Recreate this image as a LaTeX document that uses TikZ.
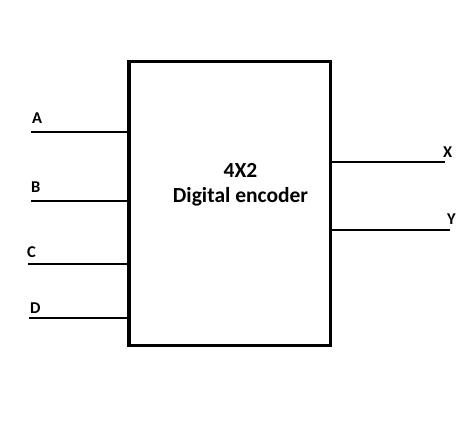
\documentclass[tikz,border=0pt]{standalone}
\usepackage{fontspec}
\setmainfont{Carlito}
\usepackage{tikz}
\usetikzlibrary{positioning}

\begin{document}
\begin{tikzpicture}[
    x               = 1pt, y = -1pt,
    encbox/.style   = {draw, line width=3.5pt, minimum width=201.5pt,
                       minimum height=283.5pt, inner sep=0pt},
    wire/.style     = {line width=1.8pt},
    pinlbl/.style   = {font=\bfseries\fontsize{16.5}{16.5}\selectfont, inner sep=0pt},
    title/.style    = {font=\bfseries\fontsize{21.5}{25}\selectfont, align=center}
]
\useasboundingbox (0,0) rectangle (474,425);

\node[encbox] (enc) at (229.5,203.5) {};
\node[title]  (name) at (240.5,185) {4X2\\Digital encoder};

% inputs
\coordinate (inA) at (31,132);
\coordinate (inB) at (31,201);
\coordinate (inC) at (28,264);
\coordinate (inD) at (29,318);

\draw[wire] (inA) -- (inA -| enc.west);
\draw[wire] (inB) -- (inB -| enc.west);
\draw[wire] (inC) -- (inC -| enc.west);
\draw[wire] (inD) -- (inD -| enc.west);

\node[pinlbl, anchor=base west] (lblA) at (32,124) {A};
\node[pinlbl, anchor=base west] (lblB) at (31,193) {B};
\node[pinlbl, anchor=base west] (lblC) at (27,257) {C};
\node[pinlbl, anchor=base west] (lblD) at (30,313) {D};

% outputs
\coordinate (outX) at (445,162);
\coordinate (outY) at (450,230);

\draw[wire] (outX -| enc.east) -- (outX);
\draw[wire] (outY -| enc.east) -- (outY);

\node[pinlbl, anchor=base west] (lblX) at (443,157.5) {X};
\node[pinlbl, anchor=base west] (lblY) at (447,224) {Y};

\end{tikzpicture}
\end{document}
